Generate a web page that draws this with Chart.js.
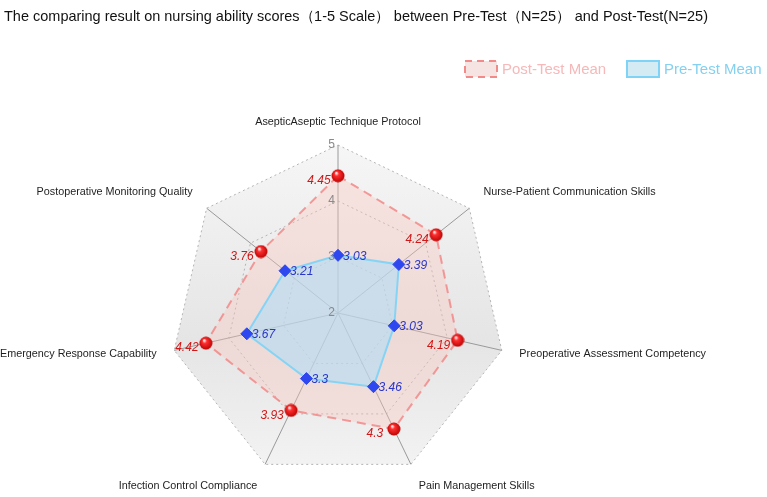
<!DOCTYPE html>
<html>
<head>
<meta charset="utf-8">
<script src="https://cdn.jsdelivr.net/npm/chart.js@4/dist/chart.umd.min.js"></script>
<style>
  html, body { margin: 0; padding: 0; background: #fff; }
</style>
</head>
<body>
<canvas id="radarChart" width="767" height="497"></canvas>
<script>
const skills = [
  "AsepticAseptic Technique Protocol",
  "Nurse-Patient Communication Skills",
  "Preoperative Assessment Competency",
  "Pain Management Skills",
  "Infection Control Compliance",
  "Emergency Response Capability",
  "Postoperative Monitoring Quality",
];
const postTestMean = [4.45, 4.24, 4.19, 4.3, 3.93, 4.42, 3.76];
const preTestMean = [3.03, 3.39, 3.03, 3.46, 3.3, 3.67, 3.21];
const scaleMin = 2;
const scaleMax = 5;
const seriesNames = ["Post-Test Mean", "Pre-Test Mean"];
const chartTitle = "The comparing result on nursing ability scores（1-5 Scale） between Pre-Test（N=25） and Post-Test(N=25)";

const FONT = "'Liberation Sans', Arial, sans-serif";

// shaded red ball used as the post-test marker
function makeSphere(r) {
  const c = document.createElement("canvas");
  c.width = c.height = r * 2;
  const g = c.getContext("2d");
  const grad = g.createRadialGradient(r * 0.75, r * 0.6, r * 0.1, r, r, r);
  grad.addColorStop(0, "#ffe0e0");
  grad.addColorStop(0.25, "#ff3030");
  grad.addColorStop(1, "#b80000");
  g.fillStyle = grad;
  g.beginPath();
  g.arc(r, r, r - 0.5, 0, Math.PI * 2);
  g.fill();
  return c;
}

// grey polygon behind the grid
const scaleBackground = {
  id: "scaleBackground",
  beforeDraw(chart) {
    const r = chart.scales.r;
    const ctx = chart.ctx;
    ctx.save();
    ctx.beginPath();
    chart.data.labels.forEach((_, i) => {
      const p = r.getPointPosition(i, r.drawingArea);
      if (i === 0) ctx.moveTo(p.x, p.y);
      else ctx.lineTo(p.x, p.y);
    });
    ctx.closePath();
    const top = r.yCenter - r.drawingArea;
    const bottom = r.yCenter + r.drawingArea;
    const g = ctx.createLinearGradient(0, top, 0, bottom);
    g.addColorStop(0, "#f6f6f6");
    g.addColorStop(0.58, "#e5e5e5");
    g.addColorStop(1, "#f4f4f4");
    ctx.fillStyle = g;
    ctx.fill();
    ctx.restore();
  },
};

// tick numbers left of the first axis
const tickNumbers = {
  id: "tickNumbers",
  afterDatasetsDraw(chart) {
    const r = chart.scales.r;
    const ctx = chart.ctx;
    ctx.save();
    ctx.font = "12px " + FONT;
    ctx.fillStyle = "#8a8a8a";
    ctx.textAlign = "right";
    ctx.textBaseline = "middle";
    r.ticks.forEach((t) => {
      const p = r.getPointPositionForValue(0, t.value);
      ctx.fillText(String(t.value), p.x - 3, p.y);
    });
    ctx.restore();
  },
};

// category names around the outside
const axisNames = {
  id: "axisNames",
  afterDraw(chart) {
    const r = chart.scales.r;
    const ctx = chart.ctx;
    ctx.save();
    ctx.font = "10.8px " + FONT;
    ctx.fillStyle = "#1e1e1e";
    chart.data.labels.forEach((label, i) => {
      const p = r.getPointPosition(i, r.drawingArea + 18);
      const deg = (r.getIndexAngle(i) * 180) / Math.PI;
      if (deg < 1 || deg > 359) ctx.textAlign = "center";
      else if (deg < 180) ctx.textAlign = "left";
      else ctx.textAlign = "right";
      if (Math.abs(deg - 90) < 20 || Math.abs(deg - 270) < 20) ctx.textBaseline = "middle";
      else if (deg > 90 && deg < 270) ctx.textBaseline = "top";
      else ctx.textBaseline = "bottom";
      ctx.fillText(label, p.x, p.y);
    });
    ctx.restore();
  },
};

// value text beside each point
const valueLabels = {
  id: "valueLabels",
  afterDatasetsDraw(chart) {
    const ctx = chart.ctx;
    chart.data.datasets.forEach((ds, di) => {
      const meta = chart.getDatasetMeta(di);
      const isPost = di === 0;
      ctx.save();
      ctx.font = "italic 12px " + FONT;
      ctx.fillStyle = isPost ? "#d01818" : "#2a36c8";
      ctx.textAlign = isPost ? "center" : "left";
      ctx.textBaseline = "middle";
      meta.data.forEach((pt, i) => {
        if (isPost) ctx.fillText(String(ds.data[i]), pt.x - 19, pt.y + 5);
        else ctx.fillText(String(ds.data[i]), pt.x + 5, pt.y + 1);
      });
      ctx.restore();
    });
  },
};

// title and legend at the top
const header = {
  id: "header",
  afterDraw(chart) {
    const ctx = chart.ctx;
    ctx.save();
    ctx.font = "15px " + FONT;
    ctx.fillStyle = "#111";
    ctx.textBaseline = "middle";
    const w = ctx.measureText(chartTitle).width;
    ctx.translate(4, 17);
    ctx.scale(Math.min(1, 704 / w), 1);
    ctx.fillText(chartTitle, 0, 0);
    ctx.restore();

    const items = [
      { x: 465, fill: "#f5e4e1", stroke: "#f28a8a", dash: [7, 5], text: "#f6b8b8" },
      { x: 627, fill: "#d5ebf4", stroke: "#7fd3f7", dash: [], text: "#84d0f0" },
    ];
    ctx.save();
    ctx.font = "15px " + FONT;
    ctx.textBaseline = "middle";
    items.forEach((it, i) => {
      ctx.fillStyle = it.fill;
      ctx.fillRect(it.x, 61, 32, 16);
      ctx.strokeStyle = it.stroke;
      ctx.lineWidth = 2;
      ctx.setLineDash(it.dash);
      ctx.strokeRect(it.x, 61, 32, 16);
      ctx.setLineDash([]);
      ctx.fillStyle = it.text;
      ctx.fillText(seriesNames[i], it.x + 37, 70);
    });
    ctx.restore();
  },
};

const ctx = document.getElementById("radarChart").getContext("2d");
const chart = new Chart(ctx, {
  type: "radar",
  data: {
    labels: skills,
    datasets: [
      {
        label: seriesNames[0],
        data: postTestMean,
        order: 1,
        borderColor: "rgba(242, 128, 128, 0.78)",
        borderWidth: 2,
        borderDash: [9, 6],
        backgroundColor: "rgba(252, 195, 185, 0.35)",
        fill: true,
        pointStyle: makeSphere(7),
        pointRadius: 7,
      },
      {
        label: seriesNames[1],
        data: preTestMean,
        order: 0,
        borderColor: "#86d4f5",
        borderWidth: 2,
        backgroundColor: "rgba(178, 222, 246, 0.6)",
        fill: true,
        pointStyle: "rectRot",
        pointRadius: 6,
        pointBackgroundColor: "#2e47ef",
        pointBorderColor: "#2e47ef",
        pointBorderWidth: 1,
      },
    ],
  },
  options: {
    responsive: false,
    animation: false,
    layout: {
      padding: { left: 4, right: 95, top: 145, bottom: 16 },
    },
    plugins: {
      legend: { display: false },
      tooltip: { enabled: false },
      title: { display: false },
    },
    scales: {
      r: {
        min: scaleMin,
        max: scaleMax,
        ticks: { stepSize: 1, display: false },
        pointLabels: { display: false },
        grid: { color: "#b4b4b4", lineWidth: 1 },
        border: { dash: [2, 3] },
        angleLines: { color: "#9a9a9a", lineWidth: 1 },
      },
    },
  },
  plugins: [scaleBackground, tickNumbers, valueLabels, axisNames, header],
});
</script>
</body>
</html>
